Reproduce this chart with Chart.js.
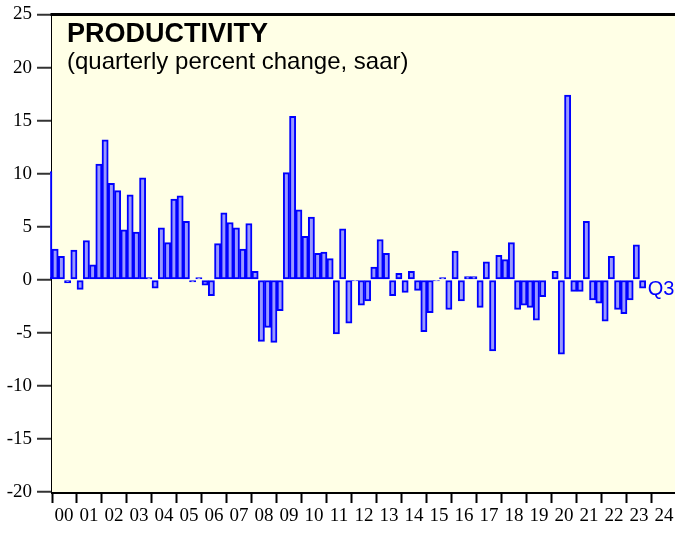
<!DOCTYPE html>
<html lang="en">
<head>
    <meta charset="UTF-8">
    <title>Productivity</title>
    <script src="https://cdn.jsdelivr.net/npm/chart.js"></script>
    <style>
        body {
            margin: 0;
            background: #fff;
        }
        #wrap {
            width: 675px;
            height: 533px;
            position: relative;
        }
    </style>
</head>
<body>
    <div id="wrap"><canvas id="prodChart"></canvas></div>

    <script>
        // quarterly percent change, saar; first value is 1999 Q4
        const firstQuarter = 1999.75;
        const productivity = [
            10.2,
            2.9, 2.2, -0.3, 2.8,     // 2000
            -0.9, 3.7, 1.4, 10.9,    // 2001
            13.2, 9.1, 8.4, 4.7,     // 2002
            8.0, 4.5, 9.6, 0.2,      // 2003
            -0.8, 4.9, 3.5, 7.6,     // 2004
            7.9, 5.5, -0.2, 0.2,     // 2005
            -0.5, -1.5, 3.4, 6.3,    // 2006
            5.4, 4.9, 2.9, 5.3,      // 2007
            0.8, -5.8, -4.5, -5.9,   // 2008
            -2.9, 10.1, 15.4, 6.6,   // 2009
            4.1, 5.9, 2.5, 2.6,      // 2010
            2.0, -5.1, 4.8, -4.1,    // 2011
            -0.1, -2.4, -2.0, 1.2,   // 2012
            3.8, 2.5, -1.5, 0.6,     // 2013
            -1.2, 0.8, -1.0, -4.9,   // 2014
            -3.1, -0.1, 0.2, -2.8,   // 2015
            2.7, -2.0, 0.3, 0.3,     // 2016
            -2.6, 1.7, -6.7, 2.3,    // 2017
            1.9, 3.5, -2.8, -2.4,    // 2018
            -2.6, -3.8, -1.6, 0.0,   // 2019
            0.8, -7.0, 17.4, -1.1,   // 2020
            -1.1, 5.5, -1.9, -2.2,   // 2021
            -3.9, 2.2, -2.8, -3.2,   // 2022
            -1.9, 3.3, -0.8          // 2023
        ];
        const yearTicks = [2000, 2001, 2002, 2003, 2004, 2005, 2006, 2007, 2008, 2009, 2010, 2011, 2012,
                           2013, 2014, 2015, 2016, 2017, 2018, 2019, 2020, 2021, 2022, 2023, 2024];
        const yearLabels = ['00', '01', '02', '03', '04', '05', '06', '07', '08', '09', '10', '11', '12',
                            '13', '14', '15', '16', '17', '18', '19', '20', '21', '22', '23', '24'];
        const lastLabel = 'Q3';
        const title = 'PRODUCTIVITY';
        const subtitle = '(quarterly percent change, saar)';

        const points = productivity.map((v, i) => ({ x: firstQuarter + i * 0.25 + 0.125, y: v }));

        // pale yellow plot area, top border line, titles
        const frame = {
            id: 'frame',
            beforeDatasetsDraw(chart) {
                const { ctx, chartArea: a } = chart;
                ctx.save();
                ctx.fillStyle = '#ffffe6';
                ctx.fillRect(a.left, a.top, a.right - a.left, a.bottom - a.top);
                ctx.restore();
            },
            afterDraw(chart) {
                const { ctx, chartArea: a } = chart;
                ctx.save();
                ctx.strokeStyle = '#000';
                ctx.lineWidth = 3;
                ctx.beginPath();
                ctx.moveTo(a.left - 1.5, a.top);
                ctx.lineTo(a.right, a.top);
                ctx.stroke();

                ctx.fillStyle = '#000';
                ctx.textBaseline = 'alphabetic';
                ctx.font = 'bold 27px "Liberation Sans", Arial, sans-serif';
                ctx.fillText(title, 67, 42);
                ctx.font = '24px "Liberation Sans", Arial, sans-serif';
                ctx.fillText(subtitle, 67, 69);

                // last quarter marker
                const meta = chart.getDatasetMeta(0);
                const bar = meta.data[meta.data.length - 1];
                const y0 = chart.scales.y.getPixelForValue(0);
                ctx.fillStyle = '#0000ff';
                ctx.font = '20px "Liberation Sans", Arial, sans-serif';
                ctx.textBaseline = 'middle';
                ctx.fillText(lastLabel, bar.x + bar.width / 2 + 2, y0 + 10);
                ctx.restore();
            }
        };

        new Chart(document.getElementById('prodChart'), {
            type: 'bar',
            data: {
                datasets: [{
                    data: points,
                    backgroundColor: '#9999ff',
                    borderColor: '#0000ff',
                    borderWidth: 2,
                    borderSkipped: false,
                    barPercentage: 1,
                    categoryPercentage: 1,
                    clip: { left: 2, top: 0, right: 0, bottom: 0 }
                }]
            },
            options: {
                responsive: true,
                maintainAspectRatio: false,
                animation: false,
                layout: { padding: { top: 13, right: 0, left: 0, bottom: 0 } },
                plugins: {
                    legend: { display: false },
                    tooltip: { enabled: false }
                },
                scales: {
                    x: {
                        type: 'linear',
                        offset: false,
                        min: 2000,
                        max: 2024.92,
                        afterBuildTicks: s => { s.ticks = yearTicks.map(v => ({ value: v })); },
                        afterFit: s => { s.height = 41; },
                        ticks: {
                            autoSkip: false,
                            maxRotation: 0,
                            labelOffset: 12,
                            padding: 2,
                            color: '#000',
                            font: { family: 'Liberation Serif', size: 19 },
                            callback: (v, i) => yearLabels[i]
                        },
                        grid: { offset: false, drawOnChartArea: false, tickLength: 11, tickWidth: 2, tickColor: '#000' },
                        border: { color: '#000', width: 3 }
                    },
                    y: {
                        min: -20,
                        max: 25,
                        z: 1,
                        afterFit: s => { s.width = 52; },
                        ticks: {
                            stepSize: 5,
                            padding: 5,
                            color: '#000',
                            font: { family: 'Liberation Serif', size: 19, lineHeight: 1 }
                        },
                        grid: {
                            tickLength: 15,
                            tickWidth: 2,
                            tickColor: '#333',
                            lineWidth: 1.5,
                            color: c => (c.tick && c.tick.value === 0) ? '#000' : 'rgba(0,0,0,0)'
                        },
                        border: { color: '#000', width: 3 }
                    }
                }
            },
            plugins: [frame]
        });
    </script>
</body>
</html>
